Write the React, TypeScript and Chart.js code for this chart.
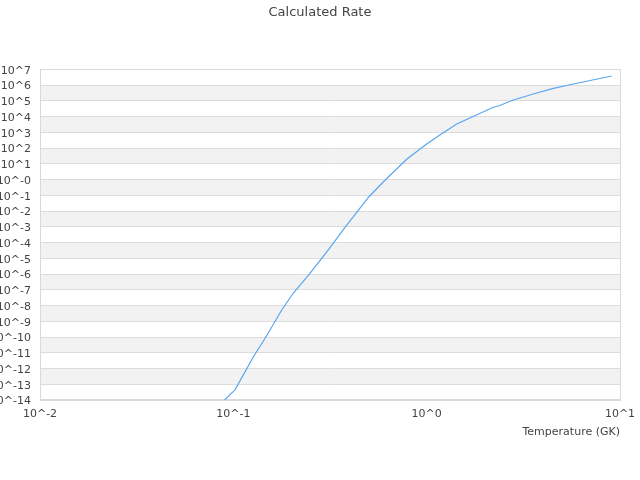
import React, { useEffect, useRef } from "react";
import { Chart, registerables } from "chart.js";

Chart.register(...registerables);

const chartTitle = "Calculated Rate";

// temperature in GK, rate
const temps = [
  0.09, 0.102, 0.127, 0.146, 0.178, 0.204, 0.249, 0.31, 0.378, 0.503, 0.609,
  0.788, 1.0, 1.17, 1.43, 1.81, 2.21, 2.35, 2.81, 3.56, 4.52, 5.74, 9.06,
];
const rates = [
  1e-14, 4.4e-14, 5.6e-12, 8.3e-11, 5.2e-9, 6.0e-8, 1.1e-6, 3.4e-5, 9.1e-4,
  0.081, 0.9, 19.3, 181, 676, 3370, 1.26e4, 3.9e4, 4.7e4, 1.12e5, 2.7e5,
  6.2e5, 1.17e6, 3.76e6,
];

const xTickValues = [0.01, 0.1, 1, 10];
const xTickLabels = ["10^-2", "10^-1", "10^0", "10^1"];

const yTickValues = [
  1e7, 1e6, 1e5, 1e4, 1e3, 1e2, 1e1, 1e0, 1e-1, 1e-2, 1e-3, 1e-4, 1e-5, 1e-6,
  1e-7, 1e-8, 1e-9, 1e-10, 1e-11, 1e-12, 1e-13, 1e-14,
];
const yTickLabels = [
  "10^7", "10^6", "10^5", "10^4", "10^3", "10^2", "10^1", "10^-0", "10^-1",
  "10^-2", "10^-3", "10^-4", "10^-5", "10^-6", "10^-7", "10^-8", "10^-9",
  "10^-10", "10^-11", "10^-12", "10^-13", "10^-14",
];

const labelFor = (values: number[], labels: string[], v: number) => {
  const i = values.findIndex((t) => Math.abs(Math.log10(t) - Math.log10(v)) < 1e-6);
  return i >= 0 ? labels[i] : "";
};

const bandsPlugin = {
  id: "bands",
  beforeDraw(chart: any) {
    const { ctx, chartArea, scales } = chart;
    const y = scales.y;
    ctx.save();
    ctx.fillStyle = "#f2f2f2";
    for (let i = 1; i < yTickValues.length - 1; i += 2) {
      const top = y.getPixelForValue(yTickValues[i]);
      const bottom = y.getPixelForValue(yTickValues[i + 1]);
      ctx.fillRect(chartArea.left, top, chartArea.right - chartArea.left, bottom - top);
    }
    ctx.restore();
  },
  beforeDatasetsDraw(chart: any) {
    const { ctx, chartArea } = chart;
    ctx.save();
    ctx.strokeStyle = "#d9d9d9";
    ctx.lineWidth = 1;
    ctx.strokeRect(
      Math.round(chartArea.left) + 0.5,
      Math.round(chartArea.top) + 0.5,
      Math.round(chartArea.right - chartArea.left),
      Math.round(chartArea.bottom - chartArea.top) - 1
    );
    ctx.restore();
  },
  afterDraw(chart: any) {
    const { ctx, width } = chart;
    ctx.save();
    ctx.fillStyle = "#444";
    ctx.font = "13px 'DejaVu Sans', sans-serif";
    ctx.textAlign = "center";
    ctx.textBaseline = "middle";
    ctx.fillText(chartTitle, width / 2, 12.8);
    ctx.restore();
  },
};

const App: React.FC = () => {
  const chartRef = useRef<HTMLCanvasElement>(null);
  const chartInstance = useRef<Chart>();

  useEffect(() => {
    if (!chartRef.current) return;
    const ctx = chartRef.current.getContext("2d");
    if (!ctx) return;
    if (chartInstance.current) chartInstance.current.destroy();

    Chart.defaults.font.family = "'DejaVu Sans', sans-serif";

    chartInstance.current = new Chart(ctx, {
      type: "line",
      data: {
        datasets: [
          {
            label: "Rate",
            data: temps.map((t, i) => ({ x: t, y: rates[i] })),
            borderColor: "#5aa6f2",
            borderWidth: 1.2,
            pointRadius: 0,
            fill: false,
            tension: 0,
          },
        ],
      },
      options: {
        animation: false,
        responsive: true,
        maintainAspectRatio: false,
        layout: { padding: { left: 0, right: 20, top: 69.3, bottom: 0 } },
        plugins: {
          legend: { display: false },
          tooltip: { enabled: false },
          title: { display: false },
        },
        scales: {
          x: {
            type: "logarithmic",
            min: 0.01,
            max: 10,
            afterBuildTicks: (scale: any) => {
              scale.ticks = xTickValues.map((v) => ({ value: v }));
            },
            afterFit: (scale: any) => {
              scale.height = 80;
              scale.paddingLeft = 0;
              scale.paddingRight = 0;
            },
            grid: { display: false, drawTicks: false },
            border: { display: true, color: "#d9d9d9" },
            ticks: {
              color: "#444",
              font: { size: 11 },
              padding: 8,
              maxRotation: 0,
              autoSkip: false,
              callback: (v: any) => labelFor(xTickValues, xTickLabels, Number(v)),
            },
            title: {
              display: true,
              text: "Temperature (GK)",
              align: "end",
              color: "#444",
              font: { size: 11 },
              padding: { top: 0, bottom: 41.4 },
            },
          },
          y: {
            type: "logarithmic",
            min: 1e-14,
            max: 1e7,
            afterBuildTicks: (scale: any) => {
              scale.ticks = yTickValues.map((v) => ({ value: v }));
            },
            afterFit: (scale: any) => {
              scale.width = 40;
              scale.paddingTop = 0;
              scale.paddingBottom = 0;
            },
            grid: { color: "#dcdcdc", drawTicks: false, tickLength: 0 },
            border: { display: true, color: "#d9d9d9" },
            ticks: {
              color: "#444",
              font: { size: 11 },
              padding: 9,
              labelOffset: 1.5,
              autoSkip: false,
              callback: (v: any) => labelFor(yTickValues, yTickLabels, Number(v)),
            },
          },
        },
      },
      plugins: [bandsPlugin],
    });

    return () => {
      if (chartInstance.current) {
        chartInstance.current.destroy();
        chartInstance.current = undefined;
      }
    };
  }, []);

  return (
    <div
      style={{
        position: "absolute",
        left: 0,
        top: 0,
        width: "640px",
        height: "480px",
        background: "#fff",
      }}
    >
      <canvas ref={chartRef} style={{ width: "100%", height: "100%" }} />
    </div>
  );
};

export default App;
